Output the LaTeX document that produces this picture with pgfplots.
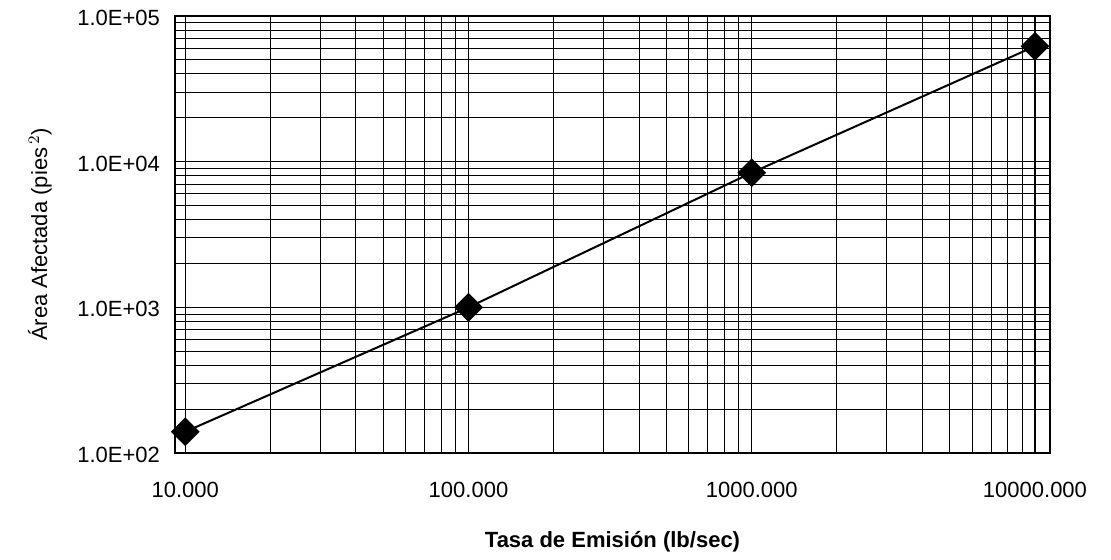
\documentclass[border=0pt]{standalone}
\usepackage{pgfplots}
\pgfplotsset{compat=1.18}
\usepackage{fontspec}
\setmainfont{Liberation Sans}
\begin{document}
\begin{tikzpicture}[x=0.5pt,y=0.5pt]
\useasboundingbox (-175,-106) rectangle (936,453);
\begin{axis}[
  at={(0,0)}, anchor=south west,
  scale only axis,
  width=437.5pt, height=218.5pt,
  xmode=log, ymode=log,
  xmin=9.2, xmax=11300,
  ymin=100, ymax=100000,
  log basis x=10, log basis y=10,
  xtick={10,100,1000,10000},
  xticklabels={10.000,100.000,1000.000,10000.000},
  ytick={100,1000,10000,100000},
  yticklabels={1.0E+02,1.0E+03,1.0E+04,1.0E+05},
  minor xtick={20,30,40,50,60,70,80,90,200,300,400,500,600,700,800,900,2000,3000,4000,5000,6000,7000,8000,9000},
  minor ytick={200,300,400,500,600,700,800,900,2000,3000,4000,5000,6000,7000,8000,9000,20000,30000,40000,50000,60000,70000,80000,90000},
  grid=both,
  major grid style={black,line width=0.7pt},
  minor grid style={black,line width=0.5pt},
  axis line style={black,line width=0.8pt},
  tick style={draw=none},
  ticklabel style={font=\fontsize{11}{13}\selectfont},
  xticklabel style={yshift=-11pt},
  yticklabel style={xshift=-4pt,yshift=-1pt},
  xlabel={\bfseries Tasa de Emisión (lb/sec)},
  ylabel={Área Afectada (pies$^{\,2}$)},
  label style={font=\fontsize{11}{13}\selectfont},
  xlabel style={yshift=-10pt},
  ylabel style={yshift=6pt},
]
\addplot[black, line width=1pt, mark=square*, mark size=4.6pt,
  mark options={rotate=45,solid,fill=black}]
  coordinates {(10,140) (100,1000) (1000,8400) (10000,62000)};
\end{axis}
\end{tikzpicture}
\end{document}
